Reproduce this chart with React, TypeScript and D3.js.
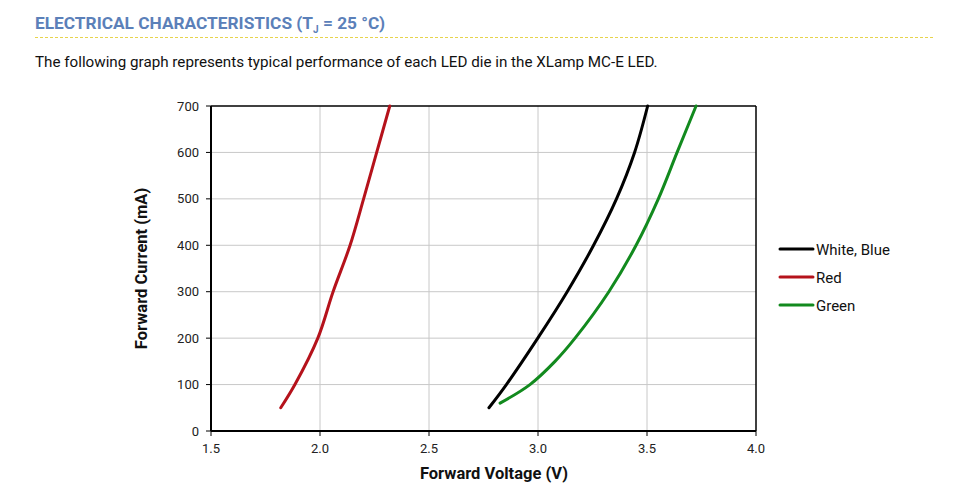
import React from 'react';
import * as d3 from 'd3';

// forward current samples (mA)
const currentWhiteBlue = [50, 100, 200, 300, 400, 500, 600, 700];
const currentRed = [50, 100, 200, 300, 400, 500, 600, 700];
const currentGreen = [60, 100, 150, 200, 300, 400, 500, 600, 700];

// forward voltage (V)
const voltWhiteBlue = [2.775, 2.855, 2.999, 3.134, 3.255, 3.36, 3.443, 3.503];
const voltRed = [1.82, 1.885, 1.99, 2.06, 2.138, 2.2, 2.26, 2.32];
const voltGreen = [2.826, 2.963, 3.078, 3.17, 3.325, 3.45, 3.552, 3.638, 3.725];

const xTicks = [1.5, 2.0, 2.5, 3.0, 3.5, 4.0];
const yTicks = [0, 100, 200, 300, 400, 500, 600, 700];

const seriesNames = ['White, Blue', 'Red', 'Green'];
const seriesColors = ['#000000', '#b5121b', '#128a1e'];

const W = 963, H = 494;
const left = 211, right = 756, top = 106, bottom = 431;

const App = () => {
  const x = d3.scaleLinear().domain([1.5, 4.0]).range([left, right]);
  const y = d3.scaleLinear().domain([0, 700]).range([bottom, top]);

  const series = [
    { v: voltWhiteBlue, i: currentWhiteBlue },
    { v: voltRed, i: currentRed },
    { v: voltGreen, i: currentGreen },
  ];

  const line = d3.line<[number, number]>()
    .x(d => x(d[0]))
    .y(d => y(d[1]))
    .curve(d3.curveCatmullRom.alpha(0.5));

  const font = 'Roboto, Arial, sans-serif';

  return (
    <div>
      <style>{'body{margin:0}'}</style>
      <svg width={W} height={H} style={{ display: 'block', fontFamily: font }}>
        <rect width={W} height={H} fill="#fff" />

        {/* header */}
        <text x={35} y={29} fill="#5b80b9" fontSize={17.3} fontWeight="bold">
          ELECTRICAL CHARACTERISTICS (T
          <tspan fontSize={10} dy={4}>J</tspan>
          <tspan dy={-4}> = 25 °C)</tspan>
        </text>
        <line x1={35} x2={935} y1={37.5} y2={37.5} stroke="#e8d44a" strokeWidth={1} strokeDasharray="3,2" />
        <text x={35} y={67} fill="#111" fontSize={15.2}>
          The following graph represents typical performance of each LED die in the XLamp MC-E LED.
        </text>

        {/* grid */}
        {xTicks.slice(1, -1).map(t => (
          <line key={'gx' + t} x1={x(t)} x2={x(t)} y1={top} y2={bottom} stroke="#c8c8c8" />
        ))}
        {yTicks.slice(1, -1).map(t => (
          <line key={'gy' + t} x1={left} x2={right} y1={y(t)} y2={y(t)} stroke="#c8c8c8" />
        ))}

        {/* frame */}
        <line x1={left} x2={right} y1={top} y2={top} stroke="#000" strokeWidth={1.5} />
        <line x1={right} x2={right} y1={top} y2={bottom} stroke="#000" strokeWidth={1.5} />
        <line x1={left} x2={left} y1={top} y2={bottom} stroke="#000" strokeWidth={2} />
        <line x1={left} x2={right} y1={bottom} y2={bottom} stroke="#000" strokeWidth={2} />

        {/* ticks */}
        {xTicks.map(t => (
          <g key={'tx' + t}>
            <line x1={x(t)} x2={x(t)} y1={bottom} y2={bottom + 5} stroke="#000" />
            <text x={x(t)} y={453} textAnchor="middle" fontSize={13} fill="#222">{t.toFixed(1)}</text>
          </g>
        ))}
        {yTicks.map(t => (
          <g key={'ty' + t}>
            <line x1={left - 5} x2={left} y1={y(t)} y2={y(t)} stroke="#000" />
            <text x={199} y={y(t) + 4.5} textAnchor="end" fontSize={13} fill="#222">{t}</text>
          </g>
        ))}

        {/* axis titles */}
        <text x={494} y={479} textAnchor="middle" fontSize={16.5} fontWeight="bold" fill="#111">Forward Voltage (V)</text>
        <text transform={`translate(147,${(top + bottom) / 2}) rotate(-90)`} textAnchor="middle" fontSize={16.5} fontWeight="bold" fill="#111">
          Forward Current (mA)
        </text>

        {/* curves */}
        {series.map((s, k) => (
          <path
            key={'s' + k}
            d={line(s.v.map((v, j) => [v, s.i[j]] as [number, number])) || ''}
            fill="none"
            stroke={seriesColors[k]}
            strokeWidth={3}
            strokeLinecap="round"
          />
        ))}

        {/* legend */}
        {seriesNames.map((n, k) => (
          <g key={'lg' + k} transform={`translate(780,${249 + k * 28})`}>
            <line x1={0} x2={33} y1={0} y2={0} stroke={seriesColors[k]} strokeWidth={3} strokeLinecap="round" />
            <text x={36} y={5.5} fontSize={15} fill="#111">{n}</text>
          </g>
        ))}
      </svg>
    </div>
  );
};

export default App;
